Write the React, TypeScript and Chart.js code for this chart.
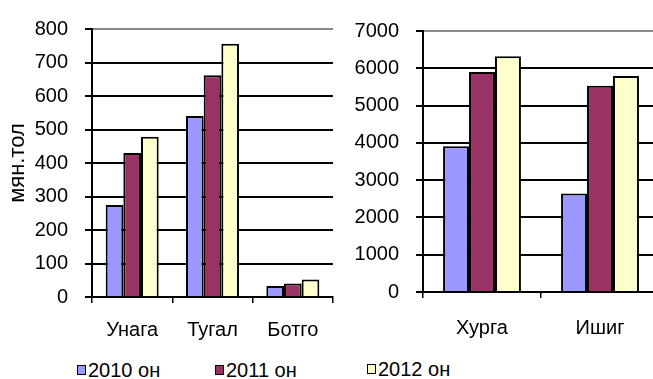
import React, { useEffect, useRef } from 'react';
import { Chart, registerables } from 'chart.js';

Chart.register(...registerables);

const leftCategories = ['Унага', 'Тугал', 'Ботго'];
const rightCategories = ['Хурга', 'Ишиг'];
const seriesLabels = ['2010 он', '2011 он', '2012 он'];
const left2010 = [275, 540, 33];
const left2011 = [430, 662, 40];
const left2012 = [478, 756, 52];
const right2010 = [3910, 2640];
const right2011 = [5900, 5530];
const right2012 = [6320, 5790];
const leftMax = 800;
const leftStep = 100;
const rightMax = 7000;
const rightStep = 1000;
const yTitle = 'мян.тол';

const seriesColors = ['#9999FF', '#993366', '#FFFFCC'];
const FONT = "'Liberation Sans', Arial, sans-serif";
const TRANSPARENT = 'rgba(0,0,0,0)';

interface Opts {
  labels: string[];
  values: number[][];
  max: number;
  step: number;
  title?: string;
  axisWidth: number;
  top: number;
  bottomHeight: number;
  rightPad: number;
  xPad: number;
}

function makeConfig(o: Opts): any {
  const nTicks = Math.round(o.max / o.step);
  return {
    type: 'bar',
    data: {
      labels: o.labels,
      datasets: o.values.map((v, i) => ({
        label: seriesLabels[i],
        data: v,
        backgroundColor: seriesColors[i],
        borderColor: '#000000',
        borderWidth: 2,
        barPercentage: 1.0,
        categoryPercentage: 0.66,
      })),
    },
    options: {
      responsive: false,
      animation: false,
      devicePixelRatio: 1,
      layout: { padding: { top: o.top, right: o.rightPad, left: 0, bottom: 0 } },
      plugins: { legend: { display: false }, tooltip: { enabled: false } },
      scales: {
        x: {
          offset: true,
          grid: {
            offset: true,
            drawOnChartArea: true,
            drawTicks: true,
            tickLength: 6,
            lineWidth: 1.5,
            color: (ctx: any) => (ctx.index === o.labels.length ? '#808080' : TRANSPARENT),
            tickColor: (ctx: any) => (ctx.index === o.labels.length ? TRANSPARENT : '#000000'),
          },
          border: { display: true, color: '#000000', width: 2 },
          ticks: {
            color: '#000000',
            font: { family: FONT, size: 20 },
            padding: o.xPad,
            maxRotation: 0,
          },
          afterFit: (scale: any) => {
            scale.height = o.bottomHeight;
          },
        },
        y: {
          min: 0,
          max: o.max,
          grid: {
            drawTicks: true,
            tickLength: 7,
            lineWidth: 2,
            color: (ctx: any) => (ctx.index === nTicks ? '#8a8a8a' : '#000000'),
            tickColor: '#000000',
          },
          border: { display: true, color: '#000000', width: 2 },
          ticks: {
            stepSize: o.step,
            color: '#000000',
            font: { family: FONT, size: 20 },
            padding: 17,
            callback: (value: any) => String(value),
          },
          title: o.title
            ? {
                display: true,
                text: o.title,
                color: '#000000',
                font: { family: FONT, size: 22 },
                padding: { top: 5, bottom: 0 },
              }
            : { display: false },
          afterFit: (scale: any) => {
            scale.width = o.axisWidth;
          },
        },
      },
    },
  };
}

function BarChart(props: { opts: Opts; width: number; height: number }) {
  const ref = useRef<HTMLCanvasElement | null>(null);
  useEffect(() => {
    if (!ref.current) return;
    const chart = new Chart(ref.current, makeConfig(props.opts));
    return () => chart.destroy();
  }, []);
  return <canvas ref={ref} width={props.width} height={props.height} style={{ display: 'block' }} />;
}

function LegendItem(props: { color: string; text: string; left: number; top: number }) {
  return (
    <div
      style={{
        position: 'absolute',
        left: props.left,
        top: props.top,
        display: 'flex',
        alignItems: 'center',
        fontFamily: FONT,
        fontSize: 20,
        color: '#000',
        whiteSpace: 'nowrap',
        lineHeight: '22px',
      }}
    >
      <span
        style={{
          display: 'inline-block',
          width: 7,
          height: 8,
          background: props.color,
          border: '1.5px solid #000',
          marginRight: 2,
        }}
      />
      <span>{props.text}</span>
    </div>
  );
}

export default function App() {
  const leftOpts: Opts = {
    labels: leftCategories,
    values: [left2010, left2011, left2012],
    max: leftMax,
    step: leftStep,
    title: yTitle,
    axisWidth: 92,
    top: 25,
    bottomHeight: 345 - 297,
    rightPad: 7,
    xPad: 15,
  };
  const rightOpts: Opts = {
    labels: rightCategories,
    values: [right2010, right2011, right2012],
    max: rightMax,
    step: rightStep,
    axisWidth: 93,
    top: 31,
    bottomHeight: 345 - 292,
    rightPad: 7,
    xPad: 18,
  };
  const legendLefts = [77, 215, 367];
  const legendTops = [359, 359, 358];
  return (
    <div
      style={{
        position: 'fixed',
        left: 0,
        top: 0,
        width: 653,
        height: 379,
        overflow: 'hidden',
        background: '#fff',
      }}
    >
      <div style={{ position: 'absolute', left: 0, top: 0, width: 340, height: 345 }}>
        <BarChart opts={leftOpts} width={340} height={345} />
      </div>
      <div style={{ position: 'absolute', left: 330, top: 0, width: 323, height: 345, overflow: 'hidden' }}>
        <BarChart opts={rightOpts} width={336} height={345} />
      </div>
      {seriesLabels.map((s, i) => (
        <LegendItem key={s} color={seriesColors[i]} text={s} left={legendLefts[i]} top={legendTops[i]} />
      ))}
    </div>
  );
}
